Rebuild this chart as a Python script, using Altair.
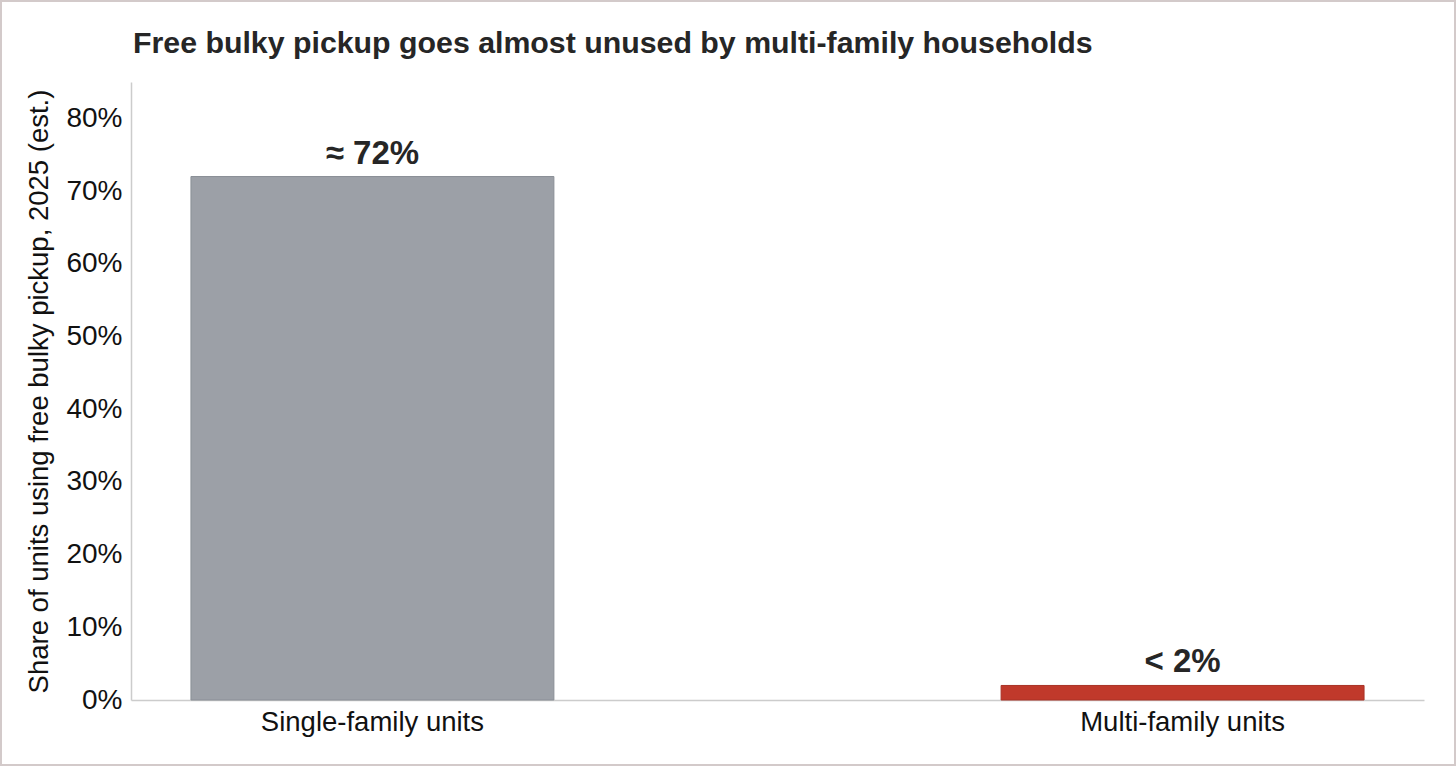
import altair as alt
import pandas as pd

title_text = "Free bulky pickup goes almost unused by multi-family households"
categories = ["Single-family units", "Multi-family units"]
values = [0.72, 0.02]
labels = ["≈ 72%", "< 2%"]
colors = ["#9ca0a7", "#c0392b"]
strokes = ["#8a8f96", "#a93226"]
y_ticks = [0, 0.1, 0.2, 0.3, 0.4, 0.5, 0.6, 0.7, 0.8]

df = pd.DataFrame({"cat": categories, "val": values, "label": labels,
                   "color": colors, "stroke": strokes})

FONT = "Liberation Sans"

x = alt.X("cat:N", sort=categories,
          scale=alt.Scale(paddingInner=0.552, paddingOuter=0.074),
          axis=alt.Axis(title=None, labelAngle=0, labelFontSize=27.5, labelFont=FONT,
                        labelColor="#111111", ticks=False, labelPadding=8, labelLimit=0,
                        domainColor="#cccccc", domainWidth=1.5))
y = alt.Y("val:Q", scale=alt.Scale(domain=[0, 0.85], nice=False),
          axis=alt.Axis(title="Share of units using free bulky pickup, 2025 (est.)",
                        titleFontSize=27.5, titleFont=FONT, titleFontWeight="normal",
                        titleColor="#111111", titlePadding=12,
                        values=y_ticks, format=".0%", labelFontSize=28, labelFont=FONT,
                        labelColor="#111111", ticks=False, labelPadding=9,
                        grid=False, domainColor="#cccccc", domainWidth=1.5))

bars = alt.Chart(df).mark_bar(strokeWidth=1).encode(
    x=x, y=y,
    color=alt.Color("color:N", scale=None),
    stroke=alt.Stroke("stroke:N", scale=None),
)

text = alt.Chart(df).mark_text(dy=-13, baseline="alphabetic", fontSize=33, fontWeight="bold",
                               font=FONT, color="#262626").encode(
    x=alt.X("cat:N", sort=categories), y="val:Q", text="label:N")

title = alt.Chart(pd.DataFrame({"t": [title_text]})).mark_text(
    align="left", baseline="alphabetic", fontSize=30.3, fontWeight="bold",
    font=FONT, color="#262626").encode(
    x=alt.value(2), y=alt.value(-29), text="t:N")

border = alt.Chart(pd.DataFrame({"a": [0]})).mark_rect(
    fill=None, stroke="#d3caca", strokeWidth=2).encode(
    x=alt.value(-130), x2=alt.value(1324), y=alt.value(-81), y2=alt.value(65 + 618))

chart = alt.layer(bars, text, title, border).properties(
    width=1293, height=618,
    autosize=alt.AutoSizeParams(type="none"),
    padding={"left": 131, "top": 82, "right": 32, "bottom": 66},
    background="white",
).configure_view(strokeWidth=0, stroke="transparent")

chart.save("out.html", embed_options={"renderer": "svg", "actions": False})
